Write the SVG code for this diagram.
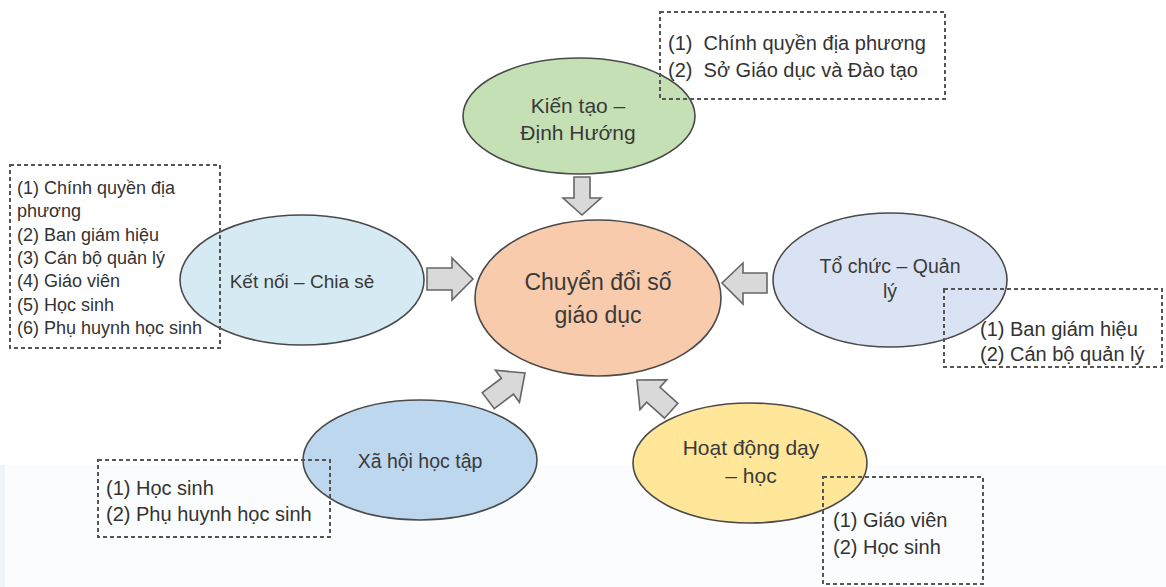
<svg xmlns="http://www.w3.org/2000/svg" width="1166" height="587" viewBox="0 0 1166 587">
<style>
.el{stroke:#4a4a4a;stroke-width:1.6}
.lbl{font-family:"Liberation Sans",Arial,sans-serif;fill:#3a3a3a;text-anchor:middle}
.bt{font-family:"Liberation Sans",Arial,sans-serif;fill:#333}
.box{fill:none;stroke:#555;stroke-width:2;stroke-dasharray:4 3}
.arr{fill:#d9d9d9;stroke:#666;stroke-width:1.6;stroke-linejoin:miter}
</style>
<defs>
<polygon id="arrow" points="-46,-10 -22,-10 -22,-20 0,0 -22,20 -22,10 -46,10"/>
</defs>
<rect x="0" y="0" width="1166" height="587" fill="#ffffff"/>
<rect x="0" y="465" width="1166" height="122" fill="#fbfcfd"/>
<rect x="0" y="465" width="5" height="122" fill="#eef4fa"/>

<g id="connectors">
<polygon class="arr" points="574,177 590,177 590,198 601,198 582,215 563,198 574,198"/>
<polygon class="arr" points="427,268 452,268 452,258 473,279 452,300 452,290 427,290"/>
<polygon class="arr" points="767,273 743,273 743,263 722,283 743,304 743,293 767,293"/>
<use href="#arrow" class="arr" transform="translate(525,373) rotate(-37)"/>
<use href="#arrow" class="arr" transform="translate(637,380) rotate(-138)"/>
</g>

<g id="node-center">
<ellipse class="el" cx="598" cy="298" rx="123" ry="78" fill="#f8cbad"/>
<text class="lbl" x="598" y="290" font-size="23">Chuyển đổi số</text>
<text class="lbl" x="598" y="323" font-size="23">giáo dục</text>
</g>

<g id="node-kientao">
<ellipse class="el" cx="579" cy="116" rx="116" ry="58" fill="#c5e0b4"/>
<text class="lbl" x="578" y="113" font-size="21">Kiến tạo –</text>
<text class="lbl" x="578" y="140" font-size="21">Định Hướng</text>
</g>

<g id="note-kientao">
<rect class="box" x="660" y="12" width="285" height="87"/>
<text class="bt" x="668" y="50" font-size="20" xml:space="preserve">(1)  Chính quyền địa phương</text>
<text class="bt" x="668" y="77" font-size="20" xml:space="preserve">(2)  Sở Giáo dục và Đào tạo</text>
</g>

<g id="node-ketnoi">
<ellipse class="el" cx="302" cy="280" rx="122" ry="65" fill="#d5eaf3"/>
<text class="lbl" x="302" y="288" font-size="19">Kết nối – Chia sẻ</text>
</g>

<g id="note-ketnoi">
<rect class="box" x="10" y="165" width="210" height="183"/>
<g class="bt" font-size="18">
<text x="17" y="194">(1) Chính quyền địa</text>
<text x="17" y="217">phương</text>
<text x="17" y="241">(2) Ban giám hiệu</text>
<text x="17" y="264">(3) Cán bộ quản lý</text>
<text x="17" y="287">(4) Giáo viên</text>
<text x="17" y="311">(5) Học sinh</text>
<text x="17" y="334">(6) Phụ huynh học sinh</text>
</g>
</g>

<g id="node-tochuc">
<ellipse class="el" cx="890" cy="280" rx="117" ry="67" fill="#dae3f3"/>
<text class="lbl" x="890" y="273" font-size="19.5">Tổ chức – Quản</text>
<text class="lbl" x="890" y="298" font-size="19.5">lý</text>
</g>

<g id="note-tochuc">
<rect class="box" x="944" y="289" width="218" height="78"/>
<text class="bt" x="980" y="336" font-size="20">(1) Ban giám hiệu</text>
<text class="bt" x="980" y="361" font-size="20">(2) Cán bộ quản lý</text>
</g>

<g id="node-xahoi">
<ellipse class="el" cx="420" cy="460" rx="117" ry="60" fill="#bdd7ee"/>
<text class="lbl" x="420" y="468" font-size="19.5">Xã hội học tập</text>
</g>

<g id="note-xahoi">
<rect class="box" x="98" y="460" width="232" height="77"/>
<text class="bt" x="106" y="495" font-size="20">(1) Học sinh</text>
<text class="bt" x="106" y="521" font-size="20">(2) Phụ huynh học sinh</text>
</g>

<g id="node-hoatdong">
<ellipse class="el" cx="750" cy="463" rx="117" ry="60" fill="#ffe699"/>
<text class="lbl" x="751" y="455" font-size="21">Hoạt động dạy</text>
<text class="lbl" x="751" y="483" font-size="21">– học</text>
</g>

<g id="note-hoatdong">
<rect class="box" x="823" y="477" width="160" height="107"/>
<text class="bt" x="833" y="527" font-size="20">(1) Giáo viên</text>
<text class="bt" x="833" y="554" font-size="20">(2) Học sinh</text>
</g>
</svg>
